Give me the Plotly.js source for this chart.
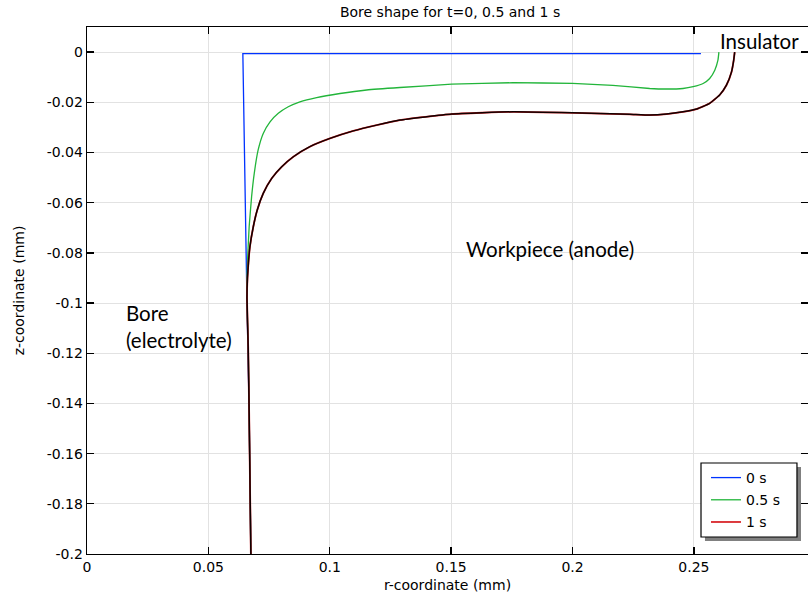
<!DOCTYPE html>
<html><head><meta charset="utf-8">
<script src="https://cdn.plot.ly/plotly-3.0.1.min.js"></script>
<style>body{margin:0;padding:0;background:#fff}#chart{width:808px;height:600px}</style>
</head><body><div id="chart"></div>
<script>
// Bore shape data (r, z in mm)
const r0 = [0.2529, 0.0642, 0.0658, 0.0664, 0.0668, 0.0675];
const z0 = [-0.0006, -0.0006, -0.0948, -0.1174, -0.1438, -0.2];

const r05 = [0.0675, 0.0668, 0.0664, 0.0658, 0.0662, 0.0668, 0.0678, 0.0689, 0.0705, 0.0726, 0.0754, 0.0788, 0.0829, 0.0877, 0.0946, 0.1042, 0.1152, 0.1289, 0.1502, 0.1754, 0.2000, 0.2166, 0.2318, 0.2387, 0.2455, 0.2497, 0.2538, 0.2565, 0.2586, 0.2599, 0.2603];
const z05 = [-0.2, -0.1438, -0.1174, -0.0948, -0.0816, -0.0696, -0.0577, -0.0483, -0.0390, -0.0324, -0.0278, -0.0244, -0.0218, -0.0198, -0.0181, -0.0165, -0.0151, -0.0141, -0.0128, -0.0122, -0.0125, -0.0133, -0.0145, -0.0147, -0.0145, -0.0138, -0.0125, -0.0105, -0.0072, -0.0032, 0.0];

const r1 = [0.0675, 0.0668, 0.0664, 0.0659, 0.0661, 0.0665, 0.0671, 0.0685, 0.0701, 0.0726, 0.0761, 0.0802, 0.0850, 0.0918, 0.1001, 0.1097, 0.1193, 0.1289, 0.1502, 0.1755, 0.2000, 0.2236, 0.2318, 0.2387, 0.2455, 0.2511, 0.2565, 0.2606, 0.2634, 0.2655, 0.2664, 0.2668];
const z1 = [-0.2, -0.1438, -0.1174, -0.0980, -0.0900, -0.0840, -0.0776, -0.0696, -0.0630, -0.0563, -0.0503, -0.0457, -0.0417, -0.0377, -0.0344, -0.0314, -0.0291, -0.0271, -0.0247, -0.0238, -0.0242, -0.0248, -0.0251, -0.0247, -0.0238, -0.0227, -0.0204, -0.0171, -0.0132, -0.0079, -0.0032, 0.0];

const yTickVals = [0, -0.02, -0.04, -0.06, -0.08, -0.1, -0.12, -0.14, -0.16, -0.18, -0.2];
const yTickText = ['0', '-0.02', '-0.04', '-0.06', '-0.08', '-0.1', '-0.12', '-0.14', '-0.16', '-0.18', '-0.2'];
const xTickVals = [0, 0.05, 0.1, 0.15, 0.2, 0.25];
const xTickText = ['0', '0.05', '0.1', '0.15', '0.2', '0.25'];

const labelFont = {family: 'Lato, "Open Sans", sans-serif', size: 20.5, color: '#000'};
const dvFont = {family: 'DejaVu Sans, sans-serif', size: 14, color: '#000'};

const traces = [
  {x: r0, y: z0, mode: 'lines', name: '0 s', legendgroup: 'a', line: {color: '#0033ff', width: 1.3}},
  {x: r05, y: z05, mode: 'lines', name: '0.5 s', legendgroup: 'b', line: {color: '#22b53a', width: 1.3, shape: 'spline', smoothing: 0.4}},
  {x: r1, y: z1, mode: 'lines', name: '1 s', legendgroup: 'c', line: {color: '#d9262a', width: 1.8, shape: 'spline', smoothing: 0.4}},
  {x: r1, y: z1, mode: 'lines', name: '1 s outline', showlegend: false, line: {color: '#120000', width: 1.5, shape: 'spline', smoothing: 0.4}}
];

const axisCommon = {
  showline: true, linecolor: '#000', linewidth: 1.3, mirror: 'ticks',
  ticks: 'inside', ticklen: 7, tickcolor: '#000', tickwidth: 1.3,
  showgrid: true, gridcolor: '#e2e2e2', gridwidth: 1, zeroline: false,
  tickfont: dvFont
};

const layout = {
  width: 808, height: 600,
  margin: {l: 87, r: 0, t: 27, b: 46},
  paper_bgcolor: '#fff', plot_bgcolor: '#fff',
  title: {text: 'Bore shape for t=0, 0.5 and 1 s', font: dvFont, x: 0.557, xanchor: 'center', y: 0.98, yanchor: 'middle'},
  xaxis: Object.assign({}, axisCommon, {
    range: [0, 0.297], tickmode: 'array', tickvals: xTickVals, ticktext: xTickText,
    title: {text: 'r-coordinate (mm)', font: dvFont, standoff: 6}
  }),
  yaxis: Object.assign({}, axisCommon, {
    range: [-0.2, 0.01], tickmode: 'array', tickvals: yTickVals, ticktext: yTickText,
    title: {text: 'z-coordinate (mm)', font: dvFont, standoff: 18}
  }),
  showlegend: true,
  legend: {
    x: 0.8585, xanchor: 'left', y: 0.1746, yanchor: 'top',
    bgcolor: 'rgba(0,0,0,0)', borderwidth: 0,
    font: dvFont, tracegroupgap: 1, itemwidth: 30
  },
  shapes: [
    {type: 'rect', xref: 'paper', yref: 'paper', x0: 0.8571, x1: 0.9903, y0: 0.0247, y1: 0.1651, fillcolor: '#808080', line: {width: 0}, layer: 'above'},
    {type: 'rect', xref: 'paper', yref: 'paper', x0: 0.8516, x1: 0.9847, y0: 0.0323, y1: 0.1727, fillcolor: '#ffffff', line: {color: '#000', width: 1.2}, layer: 'above'}
  ],
  annotations: [
    {text: 'Insulator', xref: 'x', yref: 'y', x: 0.2771, y: 0.0045, showarrow: false, font: labelFont, xanchor: 'center', yanchor: 'middle'},
    {text: 'Workpiece (anode)', xref: 'x', yref: 'y', x: 0.1907, y: -0.0785, showarrow: false, font: labelFont, xanchor: 'center', yanchor: 'middle'},
    {text: 'Bore<br>(electrolyte)', xref: 'x', yref: 'y', x: 0.0152, y: -0.1095, showarrow: false, font: labelFont, xanchor: 'left', yanchor: 'middle', align: 'left'}
  ]
};

Plotly.newPlot('chart', traces, layout, {displayModeBar: false, staticPlot: true});
</script>
</body></html>
